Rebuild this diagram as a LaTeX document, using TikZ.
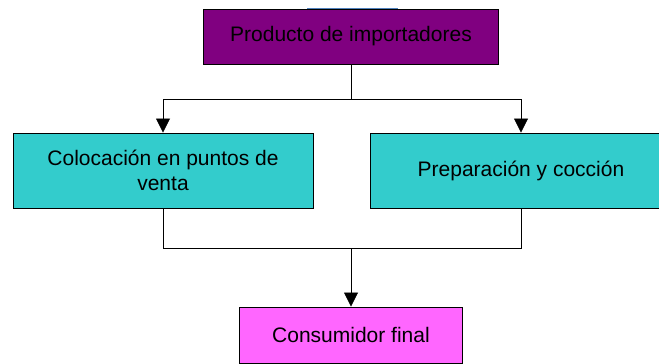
\documentclass[tikz,border=0pt]{standalone}
\usepackage{fontspec}
\setmainfont{Liberation Sans}
\usetikzlibrary{arrows.meta}
\definecolor{purplebox}{HTML}{800080}
\definecolor{cyanbox}{HTML}{33CCCC}
\definecolor{pinkbox}{HTML}{FF66FF}
\definecolor{edgeblue}{HTML}{4F81BD}
\begin{document}
\begin{tikzpicture}[x=1pt,y=-1pt,
  box/.style={draw=black,line width=0.9pt,inner sep=0pt,align=center,
    font=\fontsize{21}{25}\selectfont},
  arr/.style={-{Triangle[width=14pt,length=14pt]}},
  link/.style={line width=0.8pt}]
\useasboundingbox (0,0) rectangle (659,364);
\node[box,fill=purplebox,minimum width=295pt,minimum height=55pt] (prod) at (351,36.5) {Producto de importadores};
\draw[edgeblue,line width=0.9pt] (307,8.5) -- (398,8.5);
\node[box,fill=cyanbox,minimum width=300pt,minimum height=75pt] (venta) at (163,170.5) {Colocación en puntos de\\venta};
\node[box,fill=cyanbox,minimum width=302pt,minimum height=75pt] (coccion) at (521,170.5) {Preparación y cocción};
\node[box,fill=pinkbox,minimum width=223pt,minimum height=56pt] (cons) at (351,335) {Consumidor final};

\coordinate (split) at (351,99);
\coordinate (merge) at (351,248);
\draw[link] (prod.south) -- (split);
\draw[link,arr] (split) -| (venta.north);
\draw[link,arr] (split) -| (coccion.north);
\draw[link] (venta.south) |- (merge);
\draw[link] (coccion.south) |- (merge);
\draw[link,arr] (merge) -- (cons.north);
\end{tikzpicture}
\end{document}
